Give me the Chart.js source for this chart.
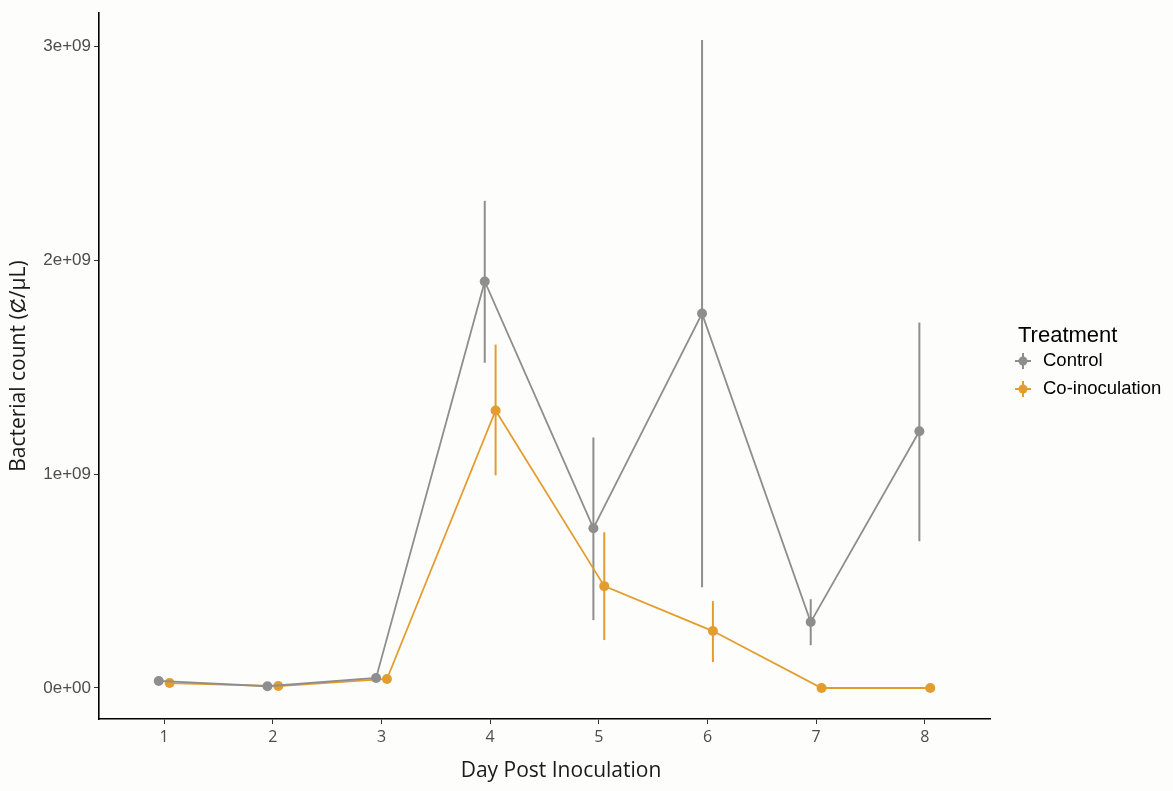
<!DOCTYPE html>
<html>
<head>
<meta charset="utf-8">
<script src="https://cdn.jsdelivr.net/npm/chart.js@4"></script>
<style>
html,body{margin:0;padding:0;background:#fdfdfc;}
#wrap{width:1173px;height:791px;}
</style>
</head>
<body>
<main><div id="wrap"><canvas id="c"></canvas></div></main>
<script>
(function(){
  const days=[1,2,3,4,5,6,7,8];
  const controlMean=[0.033e9,0.008e9,0.047e9,1.90e9,0.747e9,1.75e9,0.308e9,1.20e9];
  const controlLo=[0.033e9,0.008e9,0.047e9,1.52e9,0.317e9,0.471e9,0.200e9,0.686e9];
  const controlHi=[0.033e9,0.008e9,0.047e9,2.277e9,1.171e9,3.029e9,0.415e9,1.708e9];
  const coMean=[0.023e9,0.009e9,0.042e9,1.297e9,0.476e9,0.266e9,0,0];
  const coLo=[0.023e9,0.009e9,0.042e9,0.994e9,0.224e9,0.121e9,0,0];
  const coHi=[0.023e9,0.009e9,0.042e9,1.605e9,0.728e9,0.406e9,0,0];
  const yTicks=[0,1e9,2e9,3e9];
  const yTickLabels=['0e+00','1e+09','2e+09','3e+09'];

  const GREY='#8e8e8e', ORANGE='#e39d2e';
  const dodge=0.05;

  const errBars={
    id:'errBars',
    beforeDatasetsDraw(chart){
      const {ctx,scales:{x,y}}=chart;
      ctx.save();ctx.lineWidth=2;
      chart.data.datasets.forEach(ds=>{
        ctx.strokeStyle=ds.borderColor;
        ds.data.forEach((p,i)=>{
          const px=x.getPixelForValue(p.x);
          ctx.beginPath();
          ctx.moveTo(px,y.getPixelForValue(ds.lo[i]));
          ctx.lineTo(px,y.getPixelForValue(ds.hi[i]));
          ctx.stroke();
        });
      });
      ctx.restore();
    }
  };

  // legend + x title drawn by hand
  const legend={
    id:'legendBox',
    afterDraw(chart){
      const {ctx}=chart;ctx.save();
      ctx.textBaseline='middle';
      ctx.fillStyle='#1a1a1a';ctx.font='21px "Open Sans", sans-serif';ctx.textAlign='center';
      ctx.fillText('Day Post Inoculation',561,771);
      ctx.textAlign='left';
      ctx.fillStyle='#000';ctx.font='22px "Liberation Sans", Arial, sans-serif';
      ctx.fillText('Treatment',1018,336);
      chart.data.datasets.forEach((ds,i)=>{
        const cy=361+i*28, cx=1023;
        ctx.strokeStyle=ds.borderColor;ctx.lineWidth=2;
        ctx.beginPath();ctx.moveTo(cx-8,cy);ctx.lineTo(cx+8,cy);ctx.moveTo(cx,cy-8);ctx.lineTo(cx,cy+8);ctx.stroke();
        ctx.fillStyle=ds.borderColor;ctx.beginPath();ctx.arc(cx,cy,4.5,0,Math.PI*2);ctx.fill();
        ctx.fillStyle='#000';ctx.font='18.5px "Liberation Sans", Arial, sans-serif';
        ctx.fillText(ds.label,1043,cy);
      });
      ctx.restore();
    }
  };

  function init(){
    const mk=(off,vals)=>days.map((d,i)=>({x:d+off,y:vals[i]}));
    new Chart(document.getElementById('c'),{
      type:'line',
      data:{datasets:[
        {label:'Control',data:mk(-dodge,controlMean),lo:controlLo,hi:controlHi,borderColor:GREY,backgroundColor:GREY,borderWidth:1.8,pointRadius:5,pointHoverRadius:5,pointBorderWidth:0,tension:0},
        {label:'Co-inoculation',data:mk(dodge,coMean),lo:coLo,hi:coHi,borderColor:ORANGE,backgroundColor:ORANGE,borderWidth:1.8,pointRadius:5,pointHoverRadius:5,pointBorderWidth:0,tension:0}
      ]},
      options:{
        responsive:true,maintainAspectRatio:false,animation:false,
        layout:{autoPadding:false,padding:{left:0,top:8,right:183,bottom:0}},
        plugins:{legend:{display:false},tooltip:{enabled:false}},
        scales:{
          x:{type:'linear',min:0.4,max:8.6,
            afterBuildTicks:s=>{s.ticks=days.map(v=>({value:v}));},
            afterFit:s=>{s.height=72;},
            ticks:{color:'#4d4d4d',font:{size:16,family:'"Open Sans", sans-serif'},padding:4,callback:v=>String(v)},
            grid:{drawOnChartArea:false,drawTicks:true,tickLength:5,color:'#333',lineWidth:1},
            border:{display:true,color:'#000',width:1.6}
          },
          y:{min:-0.145e9,max:3.154e9,
            afterBuildTicks:s=>{s.ticks=yTicks.map(v=>({value:v}));},
            afterFit:s=>{s.width=99;},
            ticks:{color:'#4d4d4d',font:{size:17,family:'"Liberation Sans", Arial, sans-serif'},padding:3,
              callback:v=>yTickLabels[yTicks.indexOf(v)]},
            grid:{drawOnChartArea:false,drawTicks:true,tickLength:5,color:'#333',lineWidth:1},
            border:{display:true,color:'#000',width:1.6},
            title:{display:true,text:'Bacterial count (Ȼ/μL)',color:'#1a1a1a',font:{size:21,family:'"Open Sans", sans-serif'},padding:{top:6,bottom:0}}
          }
        }
      },
      plugins:[errBars,legend]
    });
  }
  window.addEventListener('DOMContentLoaded',init);
})();
</script>
</body>
</html>
